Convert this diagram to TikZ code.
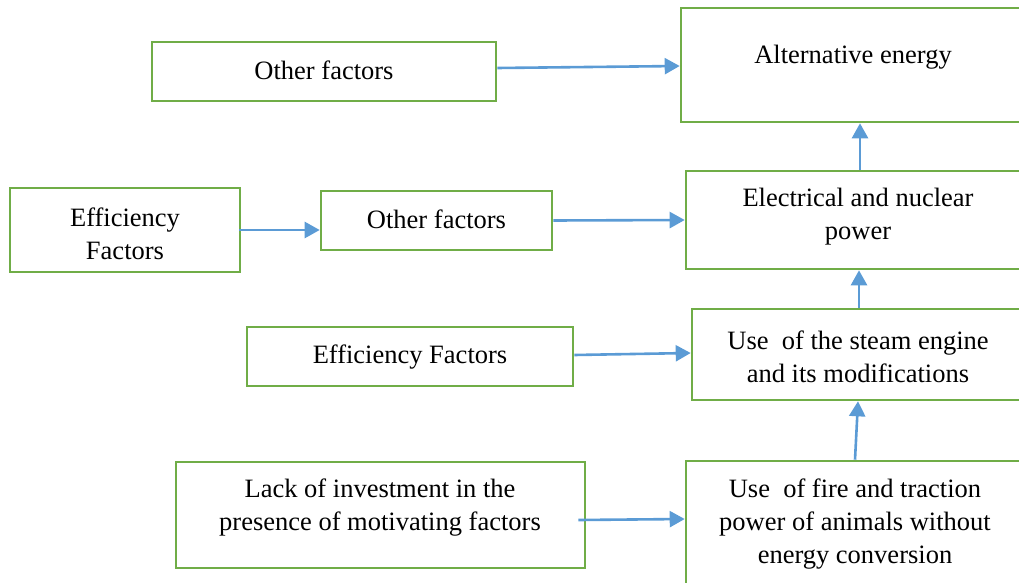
\documentclass[tikz,border=0pt]{standalone}
\usepackage{fontspec}
\setmainfont{Liberation Serif}
\usetikzlibrary{arrows.meta}
\definecolor{boxgreen}{HTML}{70AD47}
\definecolor{arrblue}{HTML}{5B9BD5}
\begin{document}
\begin{tikzpicture}[x=1pt,y=-1pt,
  box/.style={draw=boxgreen, line width=2.6pt, rectangle, inner sep=0pt, fill=none},
  txt/.style={inner sep=0pt, align=center, font=\fontsize{26.5}{33}\selectfont},
  conn/.style={draw=arrblue, line width=2.6pt, -{Triangle[length=15pt,width=16pt]}}]
\useasboundingbox (0,0) rectangle (1019,583);
% boxes
\node[box, minimum width=344pt, minimum height=59pt] (b1) at (324,71.5) {};
\node[box, minimum width=344pt, minimum height=114pt] (b2) at (853,65) {};
\node[box, minimum width=230pt, minimum height=84pt] (b3) at (125,230) {};
\node[box, minimum width=231pt, minimum height=59pt] (b4) at (436.5,220.5) {};
\node[box, minimum width=344pt, minimum height=98pt] (b5) at (858,220) {};
\node[box, minimum width=326pt, minimum height=59pt] (b6) at (410,356.5) {};
\node[box, minimum width=332pt, minimum height=91pt] (b7) at (858,354.5) {};
\node[box, minimum width=409pt, minimum height=106pt] (b8) at (380.5,515) {};
\node[box, minimum width=338pt, minimum height=126pt] (b9) at (855,524) {};
% texts
\node[txt] (t1) at (324,70) {Other factors};
\node[txt] (t2) at (853,57) {Alternative energy};
\node[txt] (t3) at (125,234) {Efficiency\\Factors};
\node[txt] (t4) at (436.5,219) {Other factors};
\node[txt] (t5) at (858,217) {Electrical and nuclear\\power};
\node[txt] (t6) at (410,357) {Efficiency Factors};
\node[txt] (t7) at (858,356.5) {Use\ \ of the steam engine\\and its modifications};
\node[txt] (t8) at (380,507.5) {Lack of investment in the\\presence of motivating factors};
\node[txt] (t9) at (855,524) {Use\ \ of fire and traction\\power of animals without\\energy conversion};
% connectors
\draw[conn] ([yshift=3.5pt]b1.east) -- ([yshift=-1pt]b2.west);
\draw[conn] ([xshift=-2pt]b3.east) -- ([yshift=-9.5pt]b4.west);
\draw[conn] (b4.east) -- (b5.west);
\draw[conn] ([yshift=1.5pt]b6.east) -- ([yshift=1.5pt]b7.west);
\draw[conn] ([xshift=-8pt,yshift=-5pt]b8.east) -- ([yshift=5pt]b9.west);
\draw[conn] (b9.north) -- (b7.south);
\draw[conn] ([xshift=1pt]b7.north) -- ([xshift=1pt]b5.south);
\draw[conn] ([xshift=2pt]b5.north) -- ([xshift=7pt]b2.south);
\end{tikzpicture}
\end{document}
